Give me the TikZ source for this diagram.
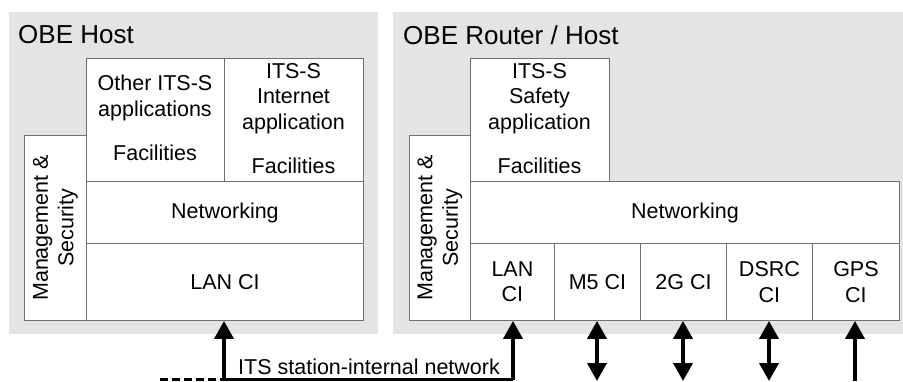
\documentclass[tikz,border=0pt]{standalone}
\usepackage{fontspec}
\setmainfont{Liberation Sans}
\usetikzlibrary{arrows.meta}

\definecolor{panelgrey}{HTML}{E4E4E4}
\definecolor{edgegrey}{HTML}{707070}

\tikzset{
  panel/.style={fill=panelgrey, draw=none, anchor=north west, inner sep=0pt},
  layer/.style={draw=edgegrey, line width=0.9pt, fill=white, anchor=north west, inner sep=0pt},
  txt/.style={font=\fontsize{21.5}{25.5}\selectfont, align=center, inner sep=0pt},
  title/.style={font=\fontsize{26}{30}\selectfont, anchor=west, inner sep=0pt},
  tip/.tip={Triangle[width=19pt,length=18pt]},
  link/.style={line width=3.8pt, -tip},
  duplex/.style={line width=3.8pt, tip-tip},
}

\begin{document}
\begin{tikzpicture}[x=1pt,y=-1pt]
\useasboundingbox (0,0) rectangle (903,381);

% ---------- OBE Host ----------
\node[panel, minimum width=369pt, minimum height=322pt] (hostpanel) at (9,12) {};
\node[title] (hosttitle) at (18,35) {OBE Host};

\node[layer, minimum width=62pt, minimum height=185pt] (hmgmt) at (24,135) {};
\node[txt, rotate=90] (hmgmtt) at (hmgmt.center) {Management \&\\Security};

\node[layer, minimum width=138pt, minimum height=123pt] (hother) at (86,58) {};
\node[txt] (hothert) at (155,98) {Other ITS-S\\applications};
\node[txt] (hotherf) at (155,153) {Facilities};

\node[layer, minimum width=139pt, minimum height=123pt] (hinet) at (224,58) {};
\node[txt] (hinett) at (293.5,98.5) {ITS-S\\Internet\\application};
\node[txt] (hinetf) at (293.5,166) {Facilities};

\node[layer, minimum width=277pt, minimum height=62pt] (hnet) at (86,181) {};
\node[txt] (hnett) at (hnet.center) {Networking};

\node[layer, minimum width=277pt, minimum height=77pt] (hlan) at (86,243) {};
\node[txt] (hlant) at (hlan.center) {LAN CI};

% ---------- OBE Router / Host ----------
\node[panel, minimum width=510pt, minimum height=322pt] (rpanel) at (393,12) {};
\node[title] (rtitle) at (403,35) {OBE Router / Host};

\node[layer, minimum width=61pt, minimum height=185pt] (rmgmt) at (409,135) {};
\node[txt, rotate=90] (rmgmtt) at (rmgmt.center) {Management \&\\Security};

\node[layer, minimum width=139pt, minimum height=123pt] (rsafe) at (470,58) {};
\node[txt] (rsafet) at (539.5,98.5) {ITS-S\\Safety\\application};
\node[txt] (rsafef) at (539.5,166) {Facilities};

\node[layer, minimum width=429pt, minimum height=62pt] (rnet) at (470,181) {};
\node[txt] (rnett) at (rnet.center) {Networking};

\node[layer, minimum width=84pt, minimum height=77pt] (rlan) at (470,243) {};
\node[txt] (rlant) at (rlan.center) {LAN\\CI};
\node[layer, minimum width=86pt, minimum height=77pt] (rm5) at (554,243) {};
\node[txt] (rm5t) at (rm5.center) {M5 CI};
\node[layer, minimum width=86pt, minimum height=77pt] (r2g) at (640,243) {};
\node[txt] (r2gt) at (r2g.center) {2G CI};
\node[layer, minimum width=86pt, minimum height=77pt] (rdsrc) at (726,243) {};
\node[txt] (rdsrct) at (rdsrc.center) {DSRC\\CI};
\node[layer, minimum width=87pt, minimum height=77pt] (rgps) at (812,243) {};
\node[txt] (rgpst) at (rgps.center) {GPS\\CI};

% ---------- ITS station-internal network ----------
\coordinate (busW) at (160,379.5);
\coordinate (busA) at (224,379.5);
\coordinate (busB) at (513,379.5);

\draw[line width=3.8pt, dash pattern=on 8pt off 4pt] (busW) -- (busA);
\draw[line width=3.8pt] (busA) -- (busB);
\draw[link] (busA) -- (hlan.south -| busA);
\draw[link] (busB) -- (rlan.south -| busB);
\node[txt, anchor=base west] (bustxt) at (238,374) {ITS station-internal network};

% ---------- external links ----------
\coordinate (m5end) at (597,381);
\coordinate (g2end) at (683,381);
\coordinate (dsend) at (769,381);
\coordinate (gpend) at (855,381);
\draw[duplex] (m5end) -- (rm5.south -| m5end);
\draw[duplex] (g2end) -- (r2g.south -| g2end);
\draw[duplex] (dsend) -- (rdsrc.south -| dsend);
\draw[link] (gpend) -- (rgps.south -| gpend);
\end{tikzpicture}
\end{document}
